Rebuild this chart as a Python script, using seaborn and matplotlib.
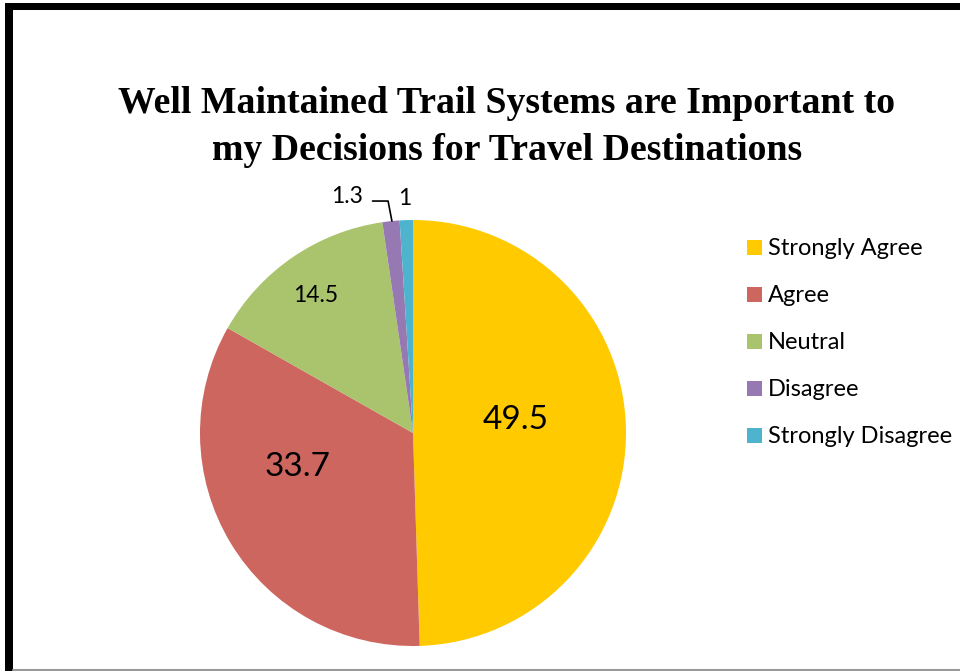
import matplotlib
matplotlib.use("Agg")
import matplotlib.pyplot as plt
from matplotlib.patches import Rectangle
from matplotlib.lines import Line2D
import seaborn as sns

# Survey responses (percent of respondents)
categories = ["Strongly Agree", "Agree", "Neutral", "Disagree", "Strongly Disagree"]
percentages = [49.5, 33.7, 14.5, 1.3, 1.0]
value_labels = ["49.5", "33.7", "14.5", "1.3", "1"]
colors = ["#FFCA00", "#CE6660", "#AAC46D", "#9679B2", "#4EB4CE"]

title = "Well Maintained Trail Systems are Important to\nmy Decisions for Travel Destinations"

sns.set_theme(style="white")
plt.rcParams["font.family"] = ["Lato", "DejaVu Sans"]
plt.rcParams["text.color"] = "black"

W, H = 960, 671
fig = plt.figure(figsize=(W / 100, H / 100), dpi=100)
fig.patch.set_facecolor("white")

# pie axes: centre (413, 433) px, radius 213 px
cx, cy, r = 413, 433, 213
ax = fig.add_axes([(cx - r) / W, (H - cy - r) / H, 2 * r / W, 2 * r / H])
wedges, _ = ax.pie(percentages, colors=colors, startangle=90, counterclock=False,
                   radius=1.0, wedgeprops=dict(linewidth=0))
ax.set_xlim(-1, 1)
ax.set_ylim(-1, 1)
ax.set_aspect("auto")
ax.axis("off")

# value labels (data coords of the pie axes)
label_pos = [(0.48, 0.06), (-0.54, -0.16), (-0.455, 0.645), (-0.31, 1.11), (-0.04, 1.10)]
label_size = [24, 24, 16.5, 16.5, 16.5]
for txt, (x, y), fs in zip(value_labels, label_pos, label_size):
    ax.text(x, y, txt, ha="center", va="center", fontsize=fs, color="black", clip_on=False)

# leader line for the Disagree slice
ax.add_line(Line2D([-0.19, -0.117, -0.099], [1.089, 1.089, 0.995],
                   color="black", lw=1.2, clip_on=False))

# title
fig.text(507 / W, 1 - 127 / H, title, ha="center", va="center",
         fontsize=27.2, fontweight="bold", family="Liberation Serif",
         linespacing=1.42, color="black")

# legend
handles = [Rectangle((0, 0), 1, 1, facecolor=c, edgecolor="none") for c in colors]
leg = fig.legend(handles, categories, loc="upper left",
                 bbox_to_anchor=(738 / W, 1 - 229 / H), frameon=False,
                 fontsize=17, handlelength=0.6, handleheight=0.6,
                 handletextpad=0.25, labelspacing=1.1, borderaxespad=0)
for t in leg.get_texts():
    t.set_color("black")

# chart frame
fig.add_artist(Rectangle((5 / W, 0), 8 / W, (H - 3) / H, transform=fig.transFigure,
                         facecolor="black", edgecolor="none"))
fig.add_artist(Rectangle((5 / W, 1 - 10 / H), (W - 5) / W, 7 / H, transform=fig.transFigure,
                         facecolor="black", edgecolor="none"))
fig.add_artist(Line2D([13 / W, 1], [1.5 / H, 1.5 / H], transform=fig.transFigure,
                      color="#999999", lw=1.5))

fig.savefig("out.png", dpi=100, facecolor="white")
